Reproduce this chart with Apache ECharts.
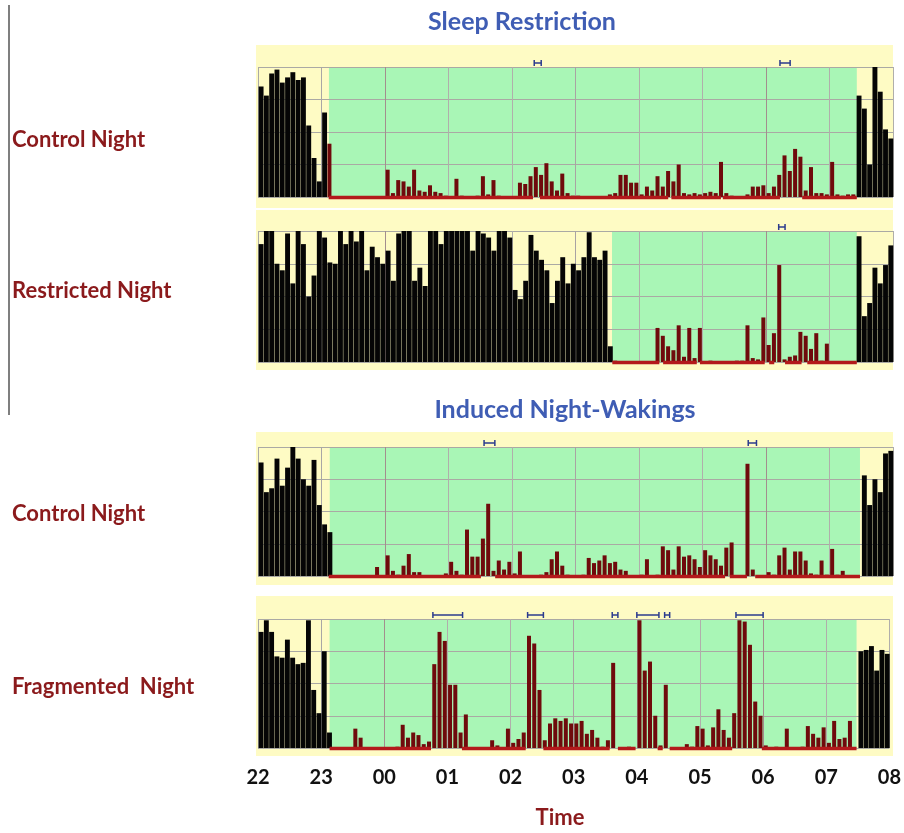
<!DOCTYPE html>
<html>
<head>
<meta charset="utf-8">
<script src="https://cdn.jsdelivr.net/npm/echarts@6/dist/echarts.min.js"></script>
<style>
html, body { margin: 0; padding: 0; background: #fff; }
#main { width: 904px; height: 833px; }
</style>
</head>
<body>
<div id="main"></div>
<script>
var chartDom = document.getElementById('main');
var myChart = echarts.init(chartDom);

// tick labels, one per hour from 22:00 to 08:00
var hourLabels = ['22', '23', '00', '01', '02', '03', '04', '05', '06', '07', '08'];
var binMinutes = 5;

// activity per 5 minute bin (0..100 = top grid line), one row per hour
var ctrlRestrict = [
    85, 78, 95, 98, 88, 92, 96, 90, 92, 55, 30, 12,
    65, 41, 0, 0, 0, 0, 0, 0, 0, 0, 0, 0,
    21, 3, 13, 12, 8, 21, 5, 4, 9, 4, 3, 1,
    0, 14, 1, 0, 0, 1, 16, 2, 13, 1, 0, 0,
    0, 11, 10, 16, 23, 17, 26, 12, 5, 18, 3, 1,
    1, 0, 0, 0, 0, 0, 2, 3, 17, 17, 11, 11,
    2, 8, 5, 16, 8, 20, 12, 25, 3, 2, 3, 2,
    3, 4, 3, 27, 3, 1, 0, 0, 2, 8, 8, 9,
    3, 8, 17, 32, 20, 37, 31, 5, 23, 3, 3, 2,
    27, 2, 1, 2, 2, 78, 68, 25, 100, 81, 52, 45
];
var restricted = [
    90, 100, 100, 75, 70, 98, 60, 100, 90, 50, 66, 100,
    95, 76, 75, 100, 90, 100, 92, 100, 70, 88, 80, 75,
    85, 62, 98, 100, 100, 62, 72, 58, 100, 100, 90, 100,
    100, 100, 100, 100, 85, 100, 98, 95, 85, 100, 100, 95,
    55, 48, 62, 97, 85, 78, 70, 45, 62, 80, 60, 75,
    70, 80, 99, 80, 78, 85, 12, 1, 0, 0, 0, 0,
    0, 0, 0, 26, 20, 12, 9, 28, 4, 26, 3, 26,
    0, 1, 0, 0, 0, 0, 1, 1, 28, 3, 2, 34,
    13, 22, 74, 2, 4, 5, 23, 20, 10, 22, 1, 14,
    0, 0, 0, 0, 0, 96, 35, 45, 72, 60, 74, 89
];
var ctrlInduced = [
    88, 65, 68, 91, 70, 84, 100, 91, 75, 70, 90, 55,
    40, 34, 0, 0, 0, 0, 0, 0, 0, 0, 7, 0,
    16, 4, 1, 8, 17, 3, 3, 0, 0, 0, 0, 2,
    11, 4, 1, 36, 15, 15, 29, 56, 4, 12, 5, 11,
    2, 19, 0, 0, 0, 1, 3, 13, 19, 8, 1, 0,
    0, 1, 14, 10, 12, 16, 10, 11, 5, 4, 0, 0,
    1, 13, 0, 1, 23, 20, 5, 23, 15, 16, 13, 7,
    20, 16, 13, 8, 22, 26, 0, 0, 87, 5, 0, 0,
    3, 1, 16, 22, 5, 19, 19, 12, 2, 1, 12, 1,
    21, 1, 4, 0, 0, 0, 78, 55, 75, 65, 95, 97
];
var fragmented = [
    90, 99, 90, 71, 70, 84, 70, 65, 66, 99, 45, 27,
    75, 12, 0, 0, 0, 0, 15, 8, 0, 0, 0, 0,
    0, 0, 1, 18, 8, 12, 10, 3, 5, 65, 90, 83,
    49, 49, 12, 26, 0, 0, 0, 0, 6, 2, 0, 15,
    4, 7, 12, 87, 81, 45, 6, 19, 23, 21, 23, 19,
    19, 21, 11, 14, 8, 1, 6, 66, 0, 0, 1, 0,
    99, 60, 67, 25, 2, 49, 0, 0, 0, 3, 1, 17,
    15, 2, 16, 30, 14, 8, 27, 99, 98, 80, 36, 25,
    2, 0, 1, 0, 15, 0, 0, 1, 17, 11, 8, 16,
    4, 21, 7, 8, 21, 0, 75, 76, 79, 60, 76, 73
];

// sleep windows in clock hours (24 = midnight, 31.5 = 07:30)
var sleepWindows = [[23.117, 31.43], [27.575, 31.43], [23.13, 31.48], [23.134, 31.48]];

// red baseline pieces (scored sleep)
var sleepSegs1 = [[23.113, 26.33], [26.44, 28.46], [28.51, 29.29], [29.32, 30.22], [30.57, 31.43]];
var sleepSegs2 = [[27.58, 28.32], [28.38, 28.91], [28.96, 29.98], [30.05, 30.13], [30.30, 30.56], [30.65, 31.43]];
var sleepSegs3 = [[23.113, 25.51], [25.735, 29.356], [29.43, 29.70], [29.83, 31.48]];
var sleepSegs4 = [[23.134, 24.74], [25.23, 26.24], [26.52, 27.57], [27.70, 27.98], [28.33, 28.41], [28.52, 29.51], [29.98, 31.48]];

// wake bouts marked above each panel
var wakeBouts1 = [[26.35, 26.46], [30.22, 30.38]];
var wakeBouts2 = [[30.20, 30.30]];
var wakeBouts3 = [[25.56, 25.73], [29.72, 29.85]];
var wakeBouts4 = [[24.77, 25.24], [26.27, 26.52], [27.61, 27.70], [28.00, 28.35], [28.44, 28.52], [29.57, 30.00]];

var panelLabels = ['Control Night', 'Restricted Night', 'Control Night', 'Fragmented  Night'];

var panels = [
    { values: ctrlRestrict, sleep: sleepWindows[0], segs: sleepSegs1, bouts: wakeBouts1, top: 67, height: 130, bgTop: 45, bgBottom: 208, labelY: 140 },
    { values: restricted, sleep: sleepWindows[1], segs: sleepSegs2, bouts: wakeBouts2, top: 231, height: 131, bgTop: 210, bgBottom: 370, labelY: 291 },
    { values: ctrlInduced, sleep: sleepWindows[2], segs: sleepSegs3, bouts: wakeBouts3, top: 447, height: 129, bgTop: 432, bgBottom: 585, labelY: 514 },
    { values: fragmented, sleep: sleepWindows[3], segs: sleepSegs4, bouts: wakeBouts4, top: 619, height: 129, bgTop: 596, bgBottom: 756, labelY: 687 }
];

var vLineColors = ['#aaa9a6', '#a9a6a6', '#a38e8e', '#b0aeab', '#b0aeab', '#a9a3a3',
    '#b0aeab', '#b0aeab', '#a38e8e', '#b0aeab', '#b0aeab'];

function segRender(params, api) {
    var a = api.coord([api.value(0), 0]);
    var b = api.coord([api.value(1), 0]);
    return {
        type: 'line',
        shape: { x1: a[0], y1: a[1] + 0.5, x2: b[0], y2: b[1] + 0.5 },
        style: { stroke: '#b3191b', lineWidth: 3.5 }
    };
}

function boutRender(params, api) {
    var a = api.coord([api.value(0), 100]);
    var b = api.coord([api.value(1), 100]);
    var y = a[1] - 4;
    var st = { stroke: '#2b3b8e', lineWidth: 1.5 };
    return {
        type: 'group',
        children: [
            { type: 'line', shape: { x1: a[0], y1: y, x2: b[0], y2: y }, style: st },
            { type: 'line', shape: { x1: a[0], y1: y - 3, x2: a[0], y2: y + 3 }, style: st },
            { type: 'line', shape: { x1: b[0], y1: y - 3, x2: b[0], y2: y + 3 }, style: st }
        ]
    };
}

var grids = [], xAxes = [], yAxes = [], series = [];
var graphics = [];

panels.forEach(function (p, k) {
    graphics.push({
        type: 'rect', z: -1,
        shape: { x: 256, y: p.bgTop, width: 637, height: p.bgBottom - p.bgTop },
        style: { fill: '#fefbc4' }
    });
    graphics.push({
        type: 'text', x: 12, y: p.labelY,
        style: { text: panelLabels[k], font: 'bold 22px Lato', fill: '#8b1a1c', align: 'left', verticalAlign: 'middle' }
    });

    grids.push({ left: 258, right: 11, top: p.top, height: p.height });
    xAxes.push({
        type: 'value', gridIndex: k, min: 22, max: 32, interval: 1, z: 1.5,
        axisLine: { show: false }, axisTick: { show: false },
        axisLabel: k === 3 ? {
            show: true, margin: 20, fontFamily: 'Lato', fontWeight: 'bold', fontSize: 20, color: '#111',
            formatter: function (v) { return hourLabels[Math.round(v) - 22]; }
        } : { show: false },
        splitLine: { show: true, lineStyle: { color: vLineColors, width: 1 } }
    });
    yAxes.push({
        type: 'value', gridIndex: k, min: 0, max: 100, interval: 25, z: 1.5,
        axisLine: { show: false }, axisTick: { show: false }, axisLabel: { show: false },
        splitLine: { show: true, lineStyle: { color: '#aaa9a4', width: 1 } }
    });

    var wake = [], asleep = [];
    p.values.forEach(function (v, i) {
        var t = 22 + (i + 0.5) * binMinutes / 60;
        if (t > p.sleep[0] && t < p.sleep[1]) {
            asleep.push([t, v]);
        } else {
            wake.push([t, v]);
        }
    });

    series.push({
        type: 'bar', xAxisIndex: k, yAxisIndex: k, data: wake, barWidth: 4.9, barGap: '-100%',
        itemStyle: { color: '#050505' }, silent: true, z: 3
    });
    series.push({
        type: 'bar', xAxisIndex: k, yAxisIndex: k, data: asleep, barWidth: 4, barGap: '-100%',
        itemStyle: { color: '#6f0a0c' }, silent: true, z: 3,
        markArea: {
            silent: true,
            itemStyle: { color: '#a9f6b6' },
            data: [[{ xAxis: p.sleep[0] }, { xAxis: p.sleep[1] }]]
        }
    });
    series.push({
        type: 'custom', xAxisIndex: k, yAxisIndex: k, silent: true, z: 4,
        data: p.segs.map(function (s) { return [s[0], s[1], 0]; }),
        encode: { x: [0, 1], y: 2 },
        renderItem: segRender
    });
    series.push({
        type: 'custom', xAxisIndex: k, yAxisIndex: k, silent: true, z: 4,
        data: p.bouts.map(function (s) { return [s[0], s[1], 100]; }),
        encode: { x: [0, 1], y: 2 },
        renderItem: boutRender
    });
});

graphics.push({ type: 'line', shape: { x1: 9, y1: 5, x2: 9, y2: 415 }, style: { stroke: '#555', lineWidth: 1.5 } });
graphics.push({
    type: 'text', x: 522, y: 22,
    style: { text: 'Sleep Restriction', font: 'bold 25px Lato', fill: '#3f5db4', align: 'center', verticalAlign: 'middle' }
});
graphics.push({
    type: 'text', x: 565, y: 410,
    style: { text: 'Induced Night-Wakings', font: 'bold 25px Lato', fill: '#3f5db4', align: 'center', verticalAlign: 'middle' }
});
graphics.push({
    type: 'text', x: 560, y: 818,
    style: { text: 'Time', font: 'bold 22px Lato', fill: '#8b1a1c', align: 'center', verticalAlign: 'middle' }
});

option = {
    animation: false,
    grid: grids,
    xAxis: xAxes,
    yAxis: yAxes,
    graphic: graphics,
    series: series
};

option && myChart.setOption(option);
</script>
</body>
</html>
